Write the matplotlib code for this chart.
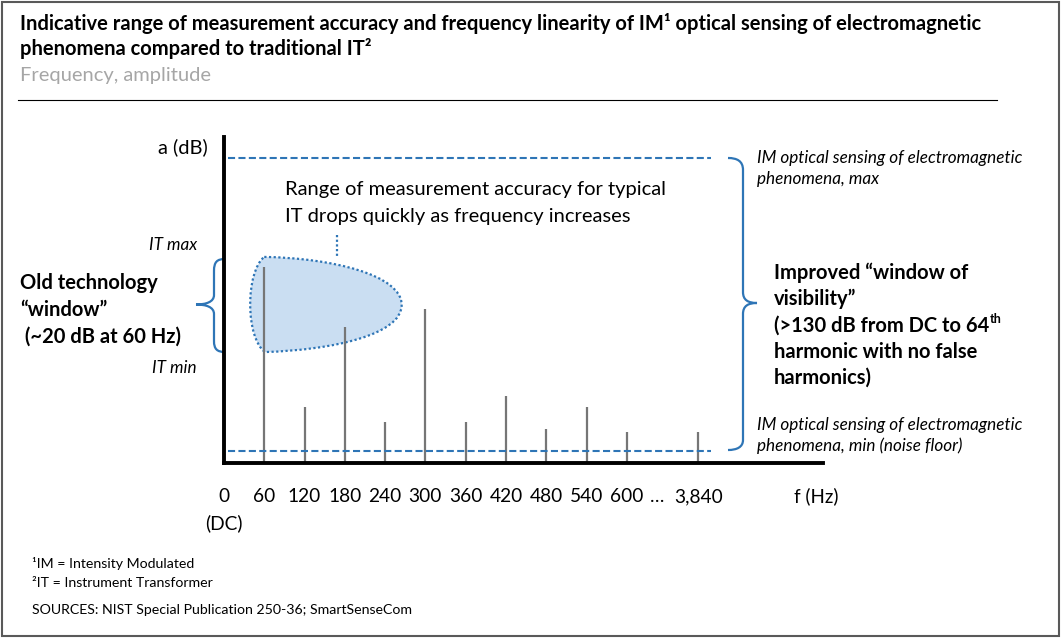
import numpy as np
import matplotlib
matplotlib.use("Agg")
import matplotlib.pyplot as plt
from matplotlib.path import Path
from matplotlib.patches import PathPatch, Rectangle

# ---------------- data ----------------
tick_labels = ["0\n(DC)", "60", "120", "180", "240", "300", "360", "420",
               "480", "540", "600", "…", "3,840"]
harmonic_labels = ["60", "120", "180", "240", "300", "360", "420", "480",
                   "540", "600", "3,840"]
harmonic_amp_db = [81.5, 19.5, 55.0, 13.0, 62.8, 13.0, 24.4, 9.8, 19.7, 8.6, 8.6]
im_max_db = 130
im_min_db = 0
# indicative IT accuracy region (harmonic index, dB) as cubic Bezier outline
blob_x = [1.00, 2.68, 4.41, 4.41, 4.41, 2.68, 1.02, 0.53, 0.53, 1.00]
blob_y = [86.1, 85.6, 78.1, 64.8, 51.5, 44.8, 43.9, 50.1, 79.4, 86.1]

# ---------------- layout ----------------
W, H = 1061, 638
BLUE = "#2e75b6"
GRAY = "#767676"
FONT = ["Lato", "DejaVu Sans"]

# category positions on the frequency axis (gap before 3,840)
tick_pos = list(np.arange(11, dtype=float)) + [10.74, 11.77]
pos_of = dict(zip([t.split("\n")[0] for t in tick_labels], tick_pos))
harm_pos = [pos_of[h] for h in harmonic_labels]

fig = plt.figure(figsize=(W / 100, H / 100), dpi=100)
ov = fig.add_axes([0, 0, 1, 1])
ov.set_xlim(0, W)
ov.set_ylim(H, 0)
ov.axis("off")


def txt(x, y, s, size, weight="normal", style="normal", color="black",
        ha="left", va="baseline"):
    return ov.text(x, y, s, fontsize=size, fontweight=weight, fontstyle=style,
                   color=color, ha=ha, va=va, family=FONT)


# frame
ov.add_patch(Rectangle((1.5, 1.5), W - 4, H - 4, fill=False, ec="#595959", lw=1.5))

# title block
txt(20, 29.5, "Indicative range of measurement accuracy and frequency linearity of IM¹ "
    "optical sensing of electromagnetic", 14.5, "bold")
txt(20, 55, "phenomena compared to traditional IT²", 14.5, "bold")
txt(20, 81, "Frequency, amplitude", 14.5, color="#a6a6a6")
ov.plot([18, 997], [100, 100], color="black", lw=0.8)

# ---------------- chart axes ----------------
ax = fig.add_axes([224 / W, (H - 463) / H, (823 - 224) / W, (463 - 137) / H])
ax.patch.set_alpha(0)
ax.set_xlim(0.06, 14.87)
ax.set_ylim(-5.32, 139.3)
for s in ["top", "right"]:
    ax.spines[s].set_visible(False)
for s in ["left", "bottom"]:
    ax.spines[s].set_linewidth(2.8)
    ax.spines[s].set_color("black")
    ax.spines[s].set_capstyle("projecting")
ax.set_yticks([])
ax.set_xticks(tick_pos, tick_labels)
ax.tick_params(axis="x", length=0, pad=18)
for lab in ax.get_xticklabels():
    lab.set_fontfamily(FONT)
    lab.set_fontsize(13.8)
    lab.set_linespacing(1.6)

# IT accuracy region
codes = [Path.MOVETO] + [Path.CURVE4] * 9
blob = PathPatch(Path(np.column_stack([blob_x, blob_y]), codes),
                 facecolor="#cadef2", edgecolor=BLUE, lw=1.6,
                 linestyle=(0, (1, 1.1)), zorder=1)
ax.add_patch(blob)
ax.plot([2.80, 2.80], [95.8, 86.2], color=BLUE, lw=1.6, ls=(0, (1, 1.1)), zorder=1)

# harmonics
ax.vlines(harm_pos, -5.32, harmonic_amp_db, colors=GRAY, lw=1.6, zorder=2)

# IM optical sensing max / noise floor
ax.hlines([im_max_db, im_min_db], 0.11, 12.08, colors=BLUE, lw=1.5,
          linestyles=[(0, (3.4, 1.6))], zorder=3)

# ---------------- annotations ----------------
txt(208, 153, "a (dB)", 14.5, ha="right")
txt(816, 502, "f (Hz)", 13.5, ha="center")

txt(285, 195, "Range of measurement accuracy for typical", 14.5)
txt(285, 222, "IT drops quickly as frequency increases", 14.5)

txt(197, 250.5, "IT max", 12.3, style="italic", ha="right")
txt(197, 373, "IT min", 12.3, style="italic", ha="right")

txt(20, 289, "Old technology", 14.5, "bold")
txt(20, 316, "“window”", 14.5, "bold")
txt(20, 343, " (~20 dB at 60 Hz)", 14.5, "bold")

txt(757, 163, "IM optical sensing of electromagnetic", 12.3, style="italic")
txt(757, 184, "phenomena, max", 12.3, style="italic")
txt(757, 430, "IM optical sensing of electromagnetic", 12.3, style="italic")
txt(757, 451, "phenomena, min (noise floor)", 12.3, style="italic")

txt(774, 279, "Improved “window of", 14.5, "bold")
txt(774, 305, "visibility”", 14.5, "bold")
t64 = txt(774, 332, "(>130 dB from DC to 64", 14.5, "bold")
txt(774, 358, "harmonic with no false", 14.5, "bold")
txt(774, 384, "harmonics)", 14.5, "bold")
fig.canvas.draw()
bb = t64.get_window_extent(fig.canvas.get_renderer())
txt(bb.x1 + 0.5, 323, "th", 9, "bold")

# braces
C4, L2, M = Path.CURVE4, Path.LINETO, Path.MOVETO
brace_codes = [M, C4, C4, C4, L2, C4, C4, C4, C4, C4, C4, L2, C4, C4, C4]
left_brace = [(225, 259), (217, 259), (214, 262), (214, 271), (214, 295),
              (214, 302), (206, 304.5), (196, 304.5), (206, 304.5), (214, 307),
              (214, 314), (214, 341), (214, 349), (217, 352), (225, 352)]
right_brace = [(728, 158), (737, 158), (743, 161), (743, 170), (743, 292),
               (743, 300), (748, 303), (757, 303), (748, 303), (743, 306),
               (743, 314), (743, 440), (743, 447), (737, 450), (728, 450)]
for vb in (left_brace, right_brace):
    ov.add_patch(PathPatch(Path(vb, brace_codes), fill=False, ec=BLUE, lw=1.6))

# footnotes
txt(32, 568, "¹IM = Intensity Modulated", 10.2)
txt(32, 587, "²IT = Instrument Transformer", 10.2)
txt(32, 614, "SOURCES: NIST Special Publication 250-36; SmartSenseCom", 10.2)

fig.savefig("out.png", dpi=100)
